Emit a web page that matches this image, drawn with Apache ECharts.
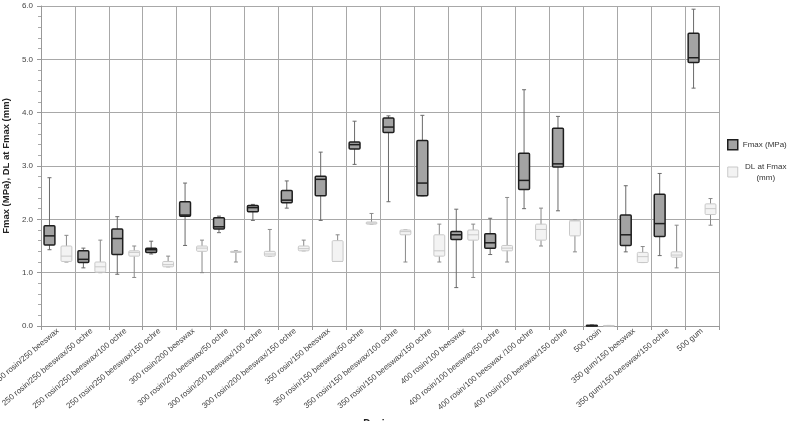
<!DOCTYPE html>
<html>
<head>
<meta charset="utf-8">
<script src="https://cdn.jsdelivr.net/npm/echarts@6/dist/echarts.min.js"></script>
<style>
  html, body { margin: 0; padding: 0; background: #fff; }
  #chart { width: 789px; height: 421px; }
</style>
</head>
<body>
<div id="chart"></div>
<script>
// designs on the x axis
const categories = [
  '250 rosin/250 beeswax', '250 rosin/250 beeswax/50 ochre', '250 rosin/250 beeswax/100 ochre', '250 rosin/250 beeswax/150 ochre',
  '300 rosin/200 beeswax', '300 rosin/200 beeswax/50 ochre', '300 rosin/200 beeswax/100 ochre', '300 rosin/200 beeswax/150 ochre',
  '350 rosin/150 beeswax', '350 rosin/150 beeswax/50 ochre', '350 rosin/150 beeswax/100 ochre', '350 rosin/150 beeswax/150 ochre',
  '400 rosin/100 beeswax', '400 rosin/100 beeswax/50 ochre', '400 rosin/100 beeswax /100 ochre', '400 rosin/100 beeswax/150 ochre',
  '500 rosin', '350 gum/150 beeswax', '350 gum/150 beeswax/150 ochre', '500 gum'
]
// [min, q1, median, q3, max]
const fmaxBox = [
  [1.43, 1.52, 1.69, 1.88, 2.78], [1.09, 1.19, 1.25, 1.41, 1.46], [0.97, 1.34, 1.64, 1.82, 2.05], [1.35, 1.38, 1.43, 1.46, 1.59],
  [1.51, 2.06, 2.08, 2.33, 2.68], [1.75, 1.82, 1.86, 2.03, 2.06], [1.98, 2.14, 2.22, 2.26, 2.28], [2.21, 2.31, 2.36, 2.54, 2.72],
  [1.98, 2.44, 2.75, 2.81, 3.26], [3.03, 3.32, 3.40, 3.45, 3.84], [2.33, 3.63, 3.73, 3.90, 3.94], [2.44, 2.44, 2.68, 3.48, 3.95],
  [0.72, 1.62, 1.71, 1.77, 2.19], [1.34, 1.46, 1.56, 1.73, 2.02], [2.20, 2.56, 2.73, 3.24, 4.43], [2.16, 2.98, 3.04, 3.71, 3.93],
  [0.00, 0.00, 0.01, 0.01, 0.02], [1.39, 1.51, 1.71, 2.08, 2.63], [1.32, 1.68, 1.92, 2.47, 2.86], [4.46, 4.94, 5.03, 5.49, 5.94]
]
const dlBox = [
  [1.20, 1.21, 1.31, 1.50, 1.70], [1.00, 1.01, 1.11, 1.20, 1.61], [0.91, 1.31, 1.38, 1.41, 1.50], [1.11, 1.11, 1.15, 1.21, 1.31],
  [1.00, 1.40, 1.46, 1.50, 1.61], [1.20, 1.38, 1.39, 1.40, 1.41], [1.31, 1.31, 1.35, 1.40, 1.81], [1.41, 1.41, 1.45, 1.50, 1.61],
  [1.21, 1.21, 1.21, 1.60, 1.71], [1.91, 1.91, 1.93, 1.95, 2.11], [1.20, 1.71, 1.77, 1.80, 1.80], [1.20, 1.31, 1.41, 1.71, 1.91],
  [0.91, 1.61, 1.71, 1.80, 1.91], [1.20, 1.41, 1.46, 1.51, 2.41], [1.50, 1.61, 1.81, 1.91, 2.21], [1.39, 1.69, 1.97, 1.98, 1.99],
  [0.00, 0.00, 0.00, 0.01, 0.01], [1.19, 1.19, 1.30, 1.38, 1.49], [1.09, 1.29, 1.33, 1.39, 1.89], [1.89, 2.09, 2.20, 2.29, 2.39]
]
const yTicks = [0, 1, 2, 3, 4, 5, 6]

const FMAX = 'Fmax (MPa)'
const DL = 'DL at Fmax (mm)'

// box drawer, offset = position inside the category band
function boxRenderer (offset, st) {
  return function (params, api) {
    const c = api.value(0)
    const bw = api.size([1, 0])[0]
    const cx = api.coord([c, 0])[0] + offset * bw
    const half = bw * 0.16
    const y = [1, 2, 3, 4, 5].map(i => api.coord([c, api.value(i)])[1])
    const cap = 2
    const line = (x1, y1, x2, y2, s) => ({ type: 'line', shape: { x1, y1, x2, y2 }, style: s })
    const ws = { stroke: st.whisker, lineWidth: 1 }
    return {
      type: 'group',
      children: [
        line(cx, y[4], cx, y[0], ws),
        line(cx - cap, y[4], cx + cap, y[4], ws),
        line(cx - cap, y[0], cx + cap, y[0], ws),
        {
          type: 'rect',
          shape: { x: cx - half, y: y[3], width: half * 2, height: Math.max(y[1] - y[3], 0.5), r: 1 },
          style: { fill: st.fill, stroke: st.border, lineWidth: st.bw }
        },
        line(cx - half, y[2], cx + half, y[2], { stroke: st.border, lineWidth: st.bw })
      ]
    }
  }
}

const fmaxStyle = { fill: '#a3a3a3', border: '#1e1e1e', bw: 1.5, whisker: '#6a6a6a' }
const dlStyle = { fill: '#f3f3f3', border: '#c9c9c9', bw: 1, whisker: '#8a8a8a' }

const myChart = echarts.init(document.getElementById('chart'))
myChart.setOption({
  animation: false,
  textStyle: { fontFamily: 'Liberation Sans, Arial, sans-serif' },
  grid: { left: 41, right: 70, top: 6, bottom: 95, outerBoundsMode: 'none' },
  legend: {
    orient: 'vertical',
    left: 727,
    top: 139,
    padding: 0,
    itemWidth: 10,
    itemHeight: 10,
    itemGap: 12,
    textStyle: {
      fontSize: 8,
      color: '#333',
      rich: { a: { width: 46, align: 'center', fontSize: 8, color: '#333', lineHeight: 11 } }
    },
    formatter: name => name === DL ? '{a|DL at Fmax}\n{a|(mm)}' : name,
    data: [
      { name: FMAX, icon: 'rect', itemStyle: { color: fmaxStyle.fill, borderColor: fmaxStyle.border, borderWidth: 1.5 } },
      { name: DL, icon: 'rect', itemStyle: { color: dlStyle.fill, borderColor: dlStyle.border, borderWidth: 1 } }
    ]
  },
  xAxis: {
    type: 'category',
    data: categories,
    name: 'Design',
    nameLocation: 'middle',
    nameGap: 93,
    nameTextStyle: { fontSize: 10, fontWeight: 'bold', color: '#222' },
    axisLine: { lineStyle: { color: '#999' } },
    axisTick: { show: true, length: 4, lineStyle: { color: '#999' } },
    splitLine: { show: true, lineStyle: { color: '#a8a8a8' } },
    axisLabel: { rotate: 40, fontSize: 8, color: '#444', margin: 4, interval: 0 }
  },
  yAxis: {
    type: 'value',
    min: yTicks[0],
    max: yTicks[yTicks.length - 1],
    interval: 1,
    name: 'Fmax (MPa), DL at Fmax (mm)',
    nameLocation: 'middle',
    nameGap: 29,
    nameTextStyle: { fontSize: 9.5, fontWeight: 'bold', color: '#222' },
    axisLine: { show: true, lineStyle: { color: '#999' } },
    axisTick: { show: true, length: 4, lineStyle: { color: '#999' } },
    minorTick: { show: true, splitNumber: 5, length: 3, lineStyle: { color: '#aaa' } },
    splitLine: { lineStyle: { color: '#a8a8a8' } },
    axisLabel: { fontSize: 8, color: '#444', margin: 8, formatter: v => v.toFixed(1) }
  },
  series: [
    {
      name: FMAX,
      type: 'custom',
      renderItem: boxRenderer(-0.25, fmaxStyle),
      itemStyle: { color: fmaxStyle.fill, borderColor: fmaxStyle.border },
      encode: { x: 0, y: [1, 2, 3, 4, 5] },
      data: fmaxBox.map((b, i) => [i, ...b]),
      z: 3
    },
    {
      name: DL,
      type: 'custom',
      renderItem: boxRenderer(0.25, dlStyle),
      itemStyle: { color: dlStyle.fill, borderColor: dlStyle.border },
      encode: { x: 0, y: [1, 2, 3, 4, 5] },
      data: dlBox.map((b, i) => [i, ...b]),
      z: 3
    }
  ]
})
</script>
</body>
</html>
